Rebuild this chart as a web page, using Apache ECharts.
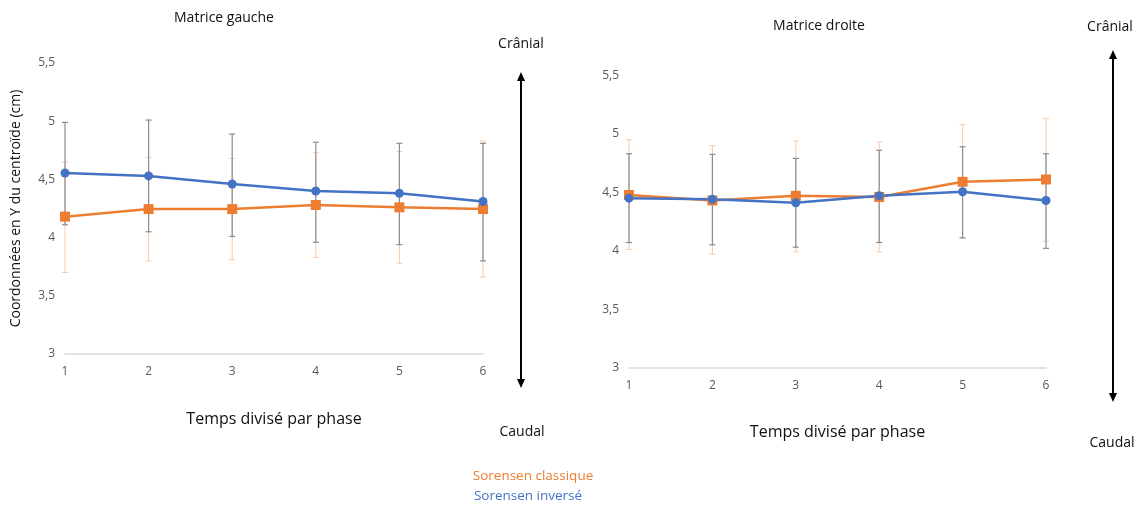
<!DOCTYPE html>
<html>
<head>
<meta charset="utf-8">
<script src="https://cdn.jsdelivr.net/npm/echarts@6/dist/echarts.min.js"></script>
<style>
  html, body { margin: 0; padding: 0; background: #fff; }
  #graphique { width: 1139px; height: 510px; }
</style>
</head>
<body>
<div id="graphique"></div>
<script>
// phases (axe des x)
const phases = ["1", "2", "3", "4", "5", "6"];

// Matrice gauche
const gaucheClassique = [4.18, 4.245, 4.245, 4.28, 4.26, 4.245];
const gaucheClassiqueBas = [3.70, 3.80, 3.81, 3.83, 3.78, 3.66];
const gaucheClassiqueHaut = [4.65, 4.69, 4.68, 4.73, 4.74, 4.83];
const gaucheInverse = [4.555, 4.53, 4.46, 4.40, 4.38, 4.31];
const gaucheInverseBas = [4.11, 4.05, 4.01, 3.96, 3.94, 3.80];
const gaucheInverseHaut = [4.99, 5.01, 4.89, 4.82, 4.81, 4.81];

// Matrice droite
const droiteClassique = [4.477, 4.43, 4.47, 4.46, 4.59, 4.61];
const droiteClassiqueBas = [4.01, 3.97, 3.99, 3.99, 4.11, 4.08];
const droiteClassiqueHaut = [4.95, 4.90, 4.94, 4.93, 5.08, 5.13];
const droiteInverse = [4.45, 4.44, 4.41, 4.47, 4.505, 4.43];
const droiteInverseBas = [4.07, 4.05, 4.03, 4.07, 4.11, 4.02];
const droiteInverseHaut = [4.83, 4.825, 4.79, 4.86, 4.89, 4.83];

const ORANGE = "#ED7D31";
const BLEU = "#4472C4";
const POLICE = "'Open Sans', 'Liberation Sans', sans-serif";

function barresErreur(idx, bas, haut, couleur, largeur) {
  return {
    type: "custom",
    xAxisIndex: idx,
    yAxisIndex: idx,
    silent: true,
    z: 1,
    data: phases.map((p, i) => [i, bas[i], haut[i]]),
    renderItem: function (params, api) {
      const b = api.coord([api.value(0), api.value(1)]);
      const h = api.coord([api.value(0), api.value(2)]);
      const c = 3;
      const style = { stroke: couleur, lineWidth: largeur };
      return {
        type: "group",
        children: [
          { type: "line", shape: { x1: b[0], y1: b[1], x2: h[0], y2: h[1] }, style },
          { type: "line", shape: { x1: h[0] - c, y1: h[1], x2: h[0] + c, y2: h[1] }, style },
          { type: "line", shape: { x1: b[0] - c, y1: b[1], x2: b[0] + c, y2: b[1] }, style }
        ]
      };
    }
  };
}

function ligne(idx, nom, valeurs, couleur, symbole, taille) {
  return {
    type: "line",
    name: nom,
    xAxisIndex: idx,
    yAxisIndex: idx,
    data: valeurs,
    symbol: symbole,
    symbolSize: taille,
    lineStyle: { color: couleur, width: 2.5 },
    itemStyle: { color: couleur },
    z: 3
  };
}

function axeX(idx) {
  return {
    type: "category",
    gridIndex: idx,
    data: phases,
    boundaryGap: false,
    axisLine: { lineStyle: { color: "#D9D9D9", width: 1.5 } },
    axisTick: { show: false },
    axisLabel: { color: "#595959", fontSize: 12, margin: 12, fontFamily: POLICE },
    name: "Temps divisé par phase",
    nameLocation: "middle",
    nameGap: 57,
    nameTextStyle: { color: "#111", fontSize: 16, fontFamily: POLICE }
  };
}

function axeY(idx) {
  return {
    type: "value",
    gridIndex: idx,
    min: 3,
    max: 5.5,
    interval: 0.5,
    splitLine: { show: false },
    axisLine: { show: false },
    axisTick: { show: false },
    axisLabel: {
      color: "#595959",
      fontSize: 12,
      margin: 10,
      fontFamily: POLICE,
      formatter: v => String(v).replace(".", ",")
    }
  };
}

function fleche(x, y1, y2) {
  return [
    { type: "line", shape: { x1: x, y1: y1 + 6, x2: x, y2: y2 - 6 }, style: { stroke: "#000", lineWidth: 2 } },
    { type: "polygon", shape: { points: [[x, y1], [x - 4, y1 + 9], [x + 4, y1 + 9]] }, style: { fill: "#000" } },
    { type: "polygon", shape: { points: [[x, y2], [x - 4, y2 - 9], [x + 4, y2 - 9]] }, style: { fill: "#000" } }
  ];
}

function texte(x, y, t, taille, couleur) {
  return {
    type: "text", x: x, y: y,
    style: { text: t, fontSize: taille, fill: couleur, fontFamily: POLICE, align: "center", verticalAlign: "middle" }
  };
}

const yGauche = axeY(0);
yGauche.name = "Coordonnées en Y du centroïde (cm)";
yGauche.nameLocation = "middle";
yGauche.nameGap = 42;
yGauche.nameTextStyle = { color: "#111", fontSize: 14, fontFamily: POLICE };

const graphique = echarts.init(document.getElementById("graphique"));
graphique.setOption({
  animation: false,
  textStyle: { fontFamily: POLICE },
  grid: [
    { left: 65, right: 656, top: 63, bottom: 156 },
    { left: 629, right: 93, top: 75.5, bottom: 142.5 }
  ],
  xAxis: [axeX(0), axeX(1)],
  yAxis: [yGauche, axeY(1)],
  series: [
    barresErreur(0, gaucheClassiqueBas, gaucheClassiqueHaut, "#F8CBAD", 1),
    barresErreur(0, gaucheInverseBas, gaucheInverseHaut, "#8C8C8C", 1.2),
    ligne(0, "Sorensen classique", gaucheClassique, ORANGE, "rect", 10),
    ligne(0, "Sorensen inversé", gaucheInverse, BLEU, "circle", 9),
    barresErreur(1, droiteClassiqueBas, droiteClassiqueHaut, "#F8CBAD", 1),
    barresErreur(1, droiteInverseBas, droiteInverseHaut, "#8C8C8C", 1.2),
    ligne(1, "Sorensen classique", droiteClassique, ORANGE, "rect", 10),
    ligne(1, "Sorensen inversé", droiteInverse, BLEU, "circle", 9)
  ],
  graphic: [
    texte(224, 18, "Matrice gauche", 14, "#111"),
    texte(819, 26, "Matrice droite", 14, "#111"),
    texte(521, 44, "Crânial", 14, "#111"),
    texte(522, 432, "Caudal", 14, "#111"),
    texte(1110, 27, "Crânial", 14, "#111"),
    texte(1112, 443, "Caudal", 14, "#111"),
    texte(533, 476, "Sorensen classique", 13.5, ORANGE),
    texte(528, 496, "Sorensen inversé", 13.5, BLEU)
  ].concat(fleche(521, 72, 388), fleche(1113, 50, 402))
});
</script>
</body>
</html>
